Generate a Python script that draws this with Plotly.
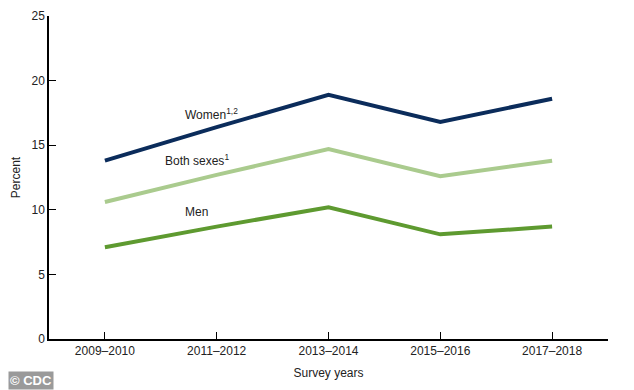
import plotly.graph_objects as go

years = ["2009–2010", "2011–2012", "2013–2014", "2015–2016", "2017–2018"]
women = [13.8, 16.4, 18.9, 16.8, 18.6]
both = [10.6, 12.7, 14.7, 12.6, 13.8]
men = [7.1, 8.7, 10.2, 8.1, 8.7]

series = [
    ("Women", women, "#0b2c5b"),
    ("Both sexes", both, "#aacb8e"),
    ("Men", men, "#5e9a30"),
]

fig = go.Figure()
for name, vals, col in series:
    fig.add_trace(go.Scatter(x=years, y=vals, mode="lines", name=name,
                             line=dict(color=col, width=4)))

font = "Liberation Sans, Arial, sans-serif"
fig.add_annotation(x=years[1], y=women[1], text="Women<sup>1,2</sup>", showarrow=False,
                   xshift=-5, yshift=13, font=dict(size=12, color="#222"))
fig.add_annotation(x=years[1], y=both[1], text="Both sexes<sup>1</sup>", showarrow=False,
                   xshift=-20, yshift=15, font=dict(size=12, color="#222"))
fig.add_annotation(x=years[1], y=men[1], text="Men", showarrow=False,
                   xshift=-20, yshift=15, font=dict(size=12, color="#222"))
fig.add_annotation(xref="paper", yref="paper", x=-0.0733, y=-0.1, xanchor="left", yanchor="top",
                   text="<b>© CDC</b>", showarrow=False, bgcolor="#9a9a9a",
                   font=dict(size=13, color="white"), borderpad=1)

fig.update_layout(
    width=626, height=382,
    margin=dict(l=41, r=26, t=8, b=51),
    plot_bgcolor="white", paper_bgcolor="white",
    showlegend=False,
    font=dict(family=font, size=12, color="#222"),
    xaxis=dict(range=[-0.5, 4.5], showline=True, linecolor="black", linewidth=1.5,
               ticks="inside", ticklen=7, tickcolor="black", showgrid=False, automargin=False,
               title=dict(text="Survey years", standoff=11, font=dict(size=12))),
    yaxis=dict(range=[0, 25], dtick=5, showline=True, linecolor="black", linewidth=1.5,
               ticks="inside", ticklen=7, tickcolor="black", showgrid=False, zeroline=False,
               automargin=False,
               title=dict(text="Percent", standoff=8, font=dict(size=12))),
)
fig.write_html("out.html")
